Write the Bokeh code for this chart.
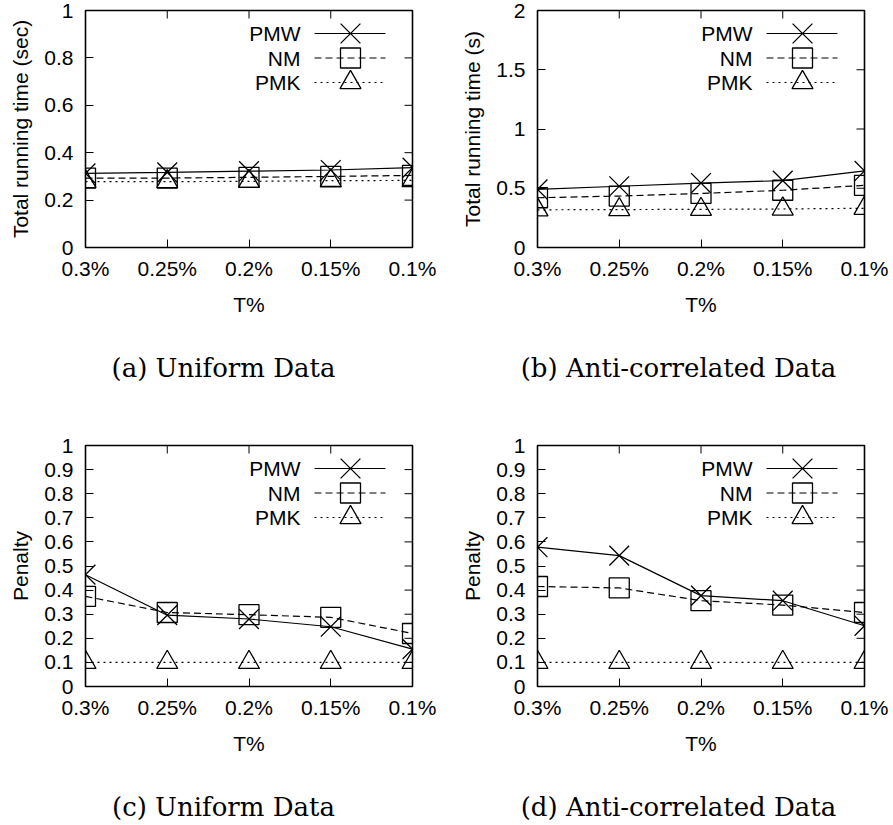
from bokeh.plotting import figure
from bokeh.layouts import column, row
from bokeh.models import Range1d, FixedTicker, Label
from bokeh.embed import file_html
from bokeh.resources import INLINE

# ---------------- data ----------------
categories = ["0.3%", "0.25%", "0.2%", "0.15%", "0.1%"]
series_names = ["PMW", "NM", "PMK"]

time_uniform_pmw = [0.313, 0.317, 0.322, 0.327, 0.337]
time_uniform_nm = [0.293, 0.293, 0.296, 0.300, 0.304]
time_uniform_pmk = [0.278, 0.278, 0.279, 0.282, 0.283]

time_anti_pmw = [0.490, 0.517, 0.544, 0.564, 0.646]
time_anti_nm = [0.420, 0.434, 0.456, 0.483, 0.525]
time_anti_pmk = [0.318, 0.320, 0.322, 0.325, 0.331]

penalty_uniform_pmw = [0.464, 0.296, 0.280, 0.248, 0.155]
penalty_uniform_nm = [0.374, 0.307, 0.298, 0.287, 0.220]
penalty_uniform_pmk = [0.100, 0.100, 0.100, 0.100, 0.100]

penalty_anti_pmw = [0.578, 0.543, 0.377, 0.356, 0.252]
penalty_anti_nm = [0.415, 0.409, 0.356, 0.338, 0.307]
penalty_anti_pmk = [0.100, 0.100, 0.100, 0.100, 0.100]

yticks_time_uniform = [0, 0.2, 0.4, 0.6, 0.8, 1]
ylabels_time_uniform = ["0", "0.2", "0.4", "0.6", "0.8", "1"]
yticks_time_anti = [0, 0.5, 1, 1.5, 2]
ylabels_time_anti = ["0", "0.5", "1", "1.5", "2"]
yticks_penalty = [0, 0.1, 0.2, 0.3, 0.4, 0.5, 0.6, 0.7, 0.8, 0.9, 1]
ylabels_penalty = ["0", "0.1", "0.2", "0.3", "0.4", "0.5", "0.6", "0.7", "0.8", "0.9", "1"]

captions = ["(a) Uniform Data", "(b) Anti-correlated Data",
            "(c) Uniform Data", "(d) Anti-correlated Data"]

# ---------------- styles ----------------
FONT = "Liberation Sans"
SERIF = "DejaVu Serif"
FS = "21px"
STYLE = {
    "PMW": dict(dash="solid", marker="x", size=28),
    "NM": dict(dash="7 4", marker="square", size=20),
    "PMK": dict(dash="2 4", marker="triangle", size=21),
}
LEG_TEXT_X, LEG_LINE_X0, LEG_LINE_X1, LEG_MARK_X = 215, 229, 300, 265
LEG_ROWS_Y = [23, 47.5, 72]
TICK_LEN = 8


def style_axis(ax):
    ax.axis_line_color = None
    ax.major_tick_in = TICK_LEN
    ax.major_tick_out = 0
    ax.minor_tick_in = 0
    ax.minor_tick_out = 0
    ax.major_tick_line_color = "black"
    ax.major_tick_line_width = 1
    ax.major_label_text_font = FONT
    ax.major_label_text_font_size = FS
    ax.major_label_text_color = "black"
    ax.axis_label_text_font = FONT
    ax.axis_label_text_font_size = FS
    ax.axis_label_text_font_style = "normal"
    ax.axis_label_text_color = "black"


def panel(w, h, bl, br, bt, bb, ymax, yt, yl, ylabel, data):
    fw = w - bl - br
    fh = h - bt - bb
    xmax = len(categories) - 1
    p = figure(width=w, height=h, output_backend="svg", toolbar_location=None,
               x_range=Range1d(0, xmax), y_range=Range1d(0, ymax),
               min_border_left=bl, min_border_right=br,
               min_border_top=bt, min_border_bottom=bb,
               x_axis_label="T%", y_axis_label=ylabel)
    p.grid.visible = False
    p.outline_line_color = "black"
    p.outline_line_width = 1.6
    p.background_fill_color = "white"
    p.border_fill_color = "white"
    xs = list(range(len(categories)))

    xax = p.xaxis[0]
    style_axis(xax)
    xax.ticker = FixedTicker(ticks=xs)
    xax.major_label_overrides = {i: c for i, c in zip(xs, categories)}
    xax.major_label_standoff = 9
    xax.axis_label_standoff = 10

    yax = p.yaxis[0]
    style_axis(yax)
    yax.ticker = FixedTicker(ticks=yt)
    yax.major_label_overrides = {t: s for t, s in zip(yt, yl)}
    yax.major_label_standoff = 12
    yax.axis_label_standoff = 9

    # mirrored inner ticks on the top and right borders (gnuplot style)
    dy = ymax * TICK_LEN / fh
    dx = xmax * TICK_LEN / fw
    p.segment(x0=xs, y0=[ymax] * len(xs), x1=xs, y1=[ymax - dy] * len(xs),
              line_color="black", line_width=1)
    p.segment(x0=[xmax] * len(yt), y0=yt, x1=[xmax - dx] * len(yt), y1=yt,
              line_color="black", line_width=1)

    for name, ys in zip(series_names, data):
        st = STYLE[name]
        p.line(xs, ys, line_color="black", line_width=1.2, line_dash=st["dash"])
        p.scatter(xs, ys, marker=st["marker"], size=st["size"], line_color="black",
                  line_width=1.3, fill_color=None)

    # key (gnuplot style: text, then sample line with marker)
    for name, ry in zip(series_names, LEG_ROWS_Y):
        st = STYLE[name]
        yy = ymax * (1 - ry / fh)
        x0 = xmax * LEG_LINE_X0 / fw
        x1 = xmax * LEG_LINE_X1 / fw
        xm = xmax * LEG_MARK_X / fw
        p.line([x0, x1], [yy, yy], line_color="black", line_width=1.2, line_dash=st["dash"])
        p.scatter([xm], [yy], marker=st["marker"], size=st["size"], line_color="black",
                  line_width=1.3, fill_color=None)
        p.add_layout(Label(x=xmax * LEG_TEXT_X / fw, y=yy, text=name,
                           text_align="right", text_baseline="middle",
                           text_font=FONT, text_font_size=FS, text_color="black"))
    return p


def caption_fig(w, h, text, cx, cy_from_top):
    c = figure(width=w, height=h, output_backend="svg", toolbar_location=None,
               x_range=Range1d(0, w), y_range=Range1d(0, h),
               x_axis_type=None, y_axis_type=None, min_border=0)
    c.grid.visible = False
    c.outline_line_color = None
    c.background_fill_color = "white"
    c.border_fill_color = "white"
    c.add_layout(Label(x=cx, y=h - cy_from_top, text=text, text_align="center",
                       text_baseline="middle", text_font=SERIF, text_font_size="26px",
                       text_color="black"))
    return c


pa = panel(446, 330, 85, 34, 10, 83, 1, yticks_time_uniform, ylabels_time_uniform,
           "Total running time (sec)",
           [time_uniform_pmw, time_uniform_nm, time_uniform_pmk])
pb = panel(447, 330, 91, 29, 10, 83, 2, yticks_time_anti, ylabels_time_anti,
           "Total running time (s)",
           [time_anti_pmw, time_anti_nm, time_anti_pmk])
pc = panel(446, 369, 85, 34, 45, 83, 1, yticks_penalty, ylabels_penalty,
           "Penalty",
           [penalty_uniform_pmw, penalty_uniform_nm, penalty_uniform_pmk])
pd_ = panel(447, 369, 91, 29, 45, 83, 1, yticks_penalty, ylabels_penalty,
            "Penalty",
            [penalty_anti_pmw, penalty_anti_nm, penalty_anti_pmk])

ca = caption_fig(446, 70, captions[0], 223, 37)
cb = caption_fig(447, 70, captions[1], 232, 37)
cc = caption_fig(446, 56, captions[2], 223, 37)
cd = caption_fig(447, 56, captions[3], 232, 37)

layout = column(row(pa, pb), row(ca, cb), row(pc, pd_), row(cc, cd))
open("out.html", "w").write(file_html(layout, INLINE))
